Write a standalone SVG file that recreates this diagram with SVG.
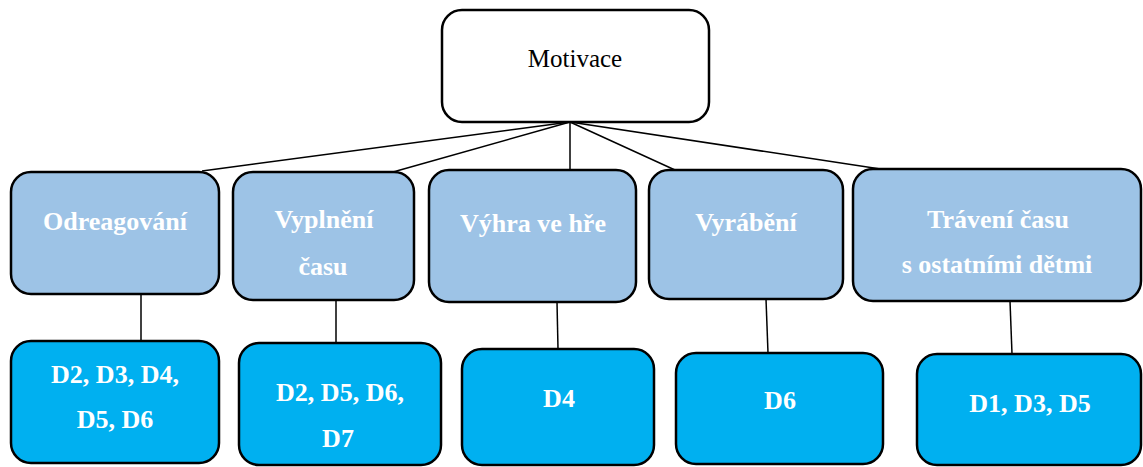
<svg xmlns="http://www.w3.org/2000/svg" width="1143" height="467" viewBox="0 0 1143 467">
<style>
.box{stroke:#000;stroke-width:2.5}
.root{fill:#fff}
.l1{fill:#9DC3E6}
.l2{fill:#00B0F0}
.t{font-family:"Liberation Serif","Times New Roman",serif;font-weight:bold;font-size:26px;fill:#fff;text-anchor:middle}
.rt{font-family:"Liberation Serif","Times New Roman",serif;font-size:25px;fill:#000;text-anchor:middle}
.c{stroke:#000;stroke-width:1.5;fill:none}
</style>
<rect width="1143" height="467" fill="#fff"/>
<g id="connectors">
<line class="c" x1="570" y1="122" x2="202" y2="171"/>
<line class="c" x1="570" y1="122" x2="393" y2="172"/>
<line class="c" x1="570" y1="122" x2="570" y2="170"/>
<line class="c" x1="570" y1="122" x2="675" y2="170"/>
<line class="c" x1="570" y1="122" x2="887" y2="170"/>
<line class="c" x1="141" y1="294" x2="141" y2="341"/>
<line class="c" x1="336" y1="300" x2="336" y2="343"/>
<line class="c" x1="557" y1="302" x2="558" y2="349"/>
<line class="c" x1="766" y1="299" x2="768" y2="353"/>
<line class="c" x1="1010" y1="301" x2="1012" y2="354"/>
</g>
<g id="motivace">
<rect class="box root" x="442" y="10" width="267" height="112" rx="20"/>
<text class="rt" x="575" y="67">Motivace</text>
</g>
<g id="odreagovani">
<rect class="box l1" x="11" y="172" width="208" height="122" rx="20"/>
<text class="t" x="115" y="230">Odreagování</text>
</g>
<g id="vyplneni">
<rect class="box l1" x="233" y="172" width="181" height="128" rx="20"/>
<text class="t" x="324" y="228">Vyplnění</text>
<text class="t" x="323" y="275">času</text>
</g>
<g id="vyhra">
<rect class="box l1" x="429" y="170" width="207" height="132" rx="20"/>
<text class="t" x="533" y="232">Výhra ve hře</text>
</g>
<g id="vyrabeni">
<rect class="box l1" x="649" y="170" width="194" height="129" rx="20"/>
<text class="t" x="746" y="231">Vyrábění</text>
</g>
<g id="traveni">
<rect class="box l1" x="853" y="169" width="288" height="132" rx="20"/>
<text class="t" x="998" y="228">Trávení času</text>
<text class="t" x="997" y="273">s ostatními dětmi</text>
</g>
<g id="d-odreagovani">
<rect class="box l2" x="11" y="341" width="208" height="122" rx="20"/>
<text class="t" x="115" y="383">D2, D3, D4,</text>
<text class="t" x="115" y="428">D5, D6</text>
</g>
<g id="d-vyplneni">
<rect class="box l2" x="239" y="343" width="202" height="122" rx="20"/>
<text class="t" x="340" y="401">D2, D5, D6,</text>
<text class="t" x="338" y="447">D7</text>
</g>
<g id="d-vyhra">
<rect class="box l2" x="462" y="349" width="192" height="116" rx="20"/>
<text class="t" x="559" y="407">D4</text>
</g>
<g id="d-vyrabeni">
<rect class="box l2" x="676" y="353" width="207" height="111" rx="20"/>
<text class="t" x="780" y="409">D6</text>
</g>
<g id="d-traveni">
<rect class="box l2" x="917" y="354" width="224" height="111" rx="20"/>
<text class="t" x="1030" y="412">D1, D3, D5</text>
</g>
</svg>
